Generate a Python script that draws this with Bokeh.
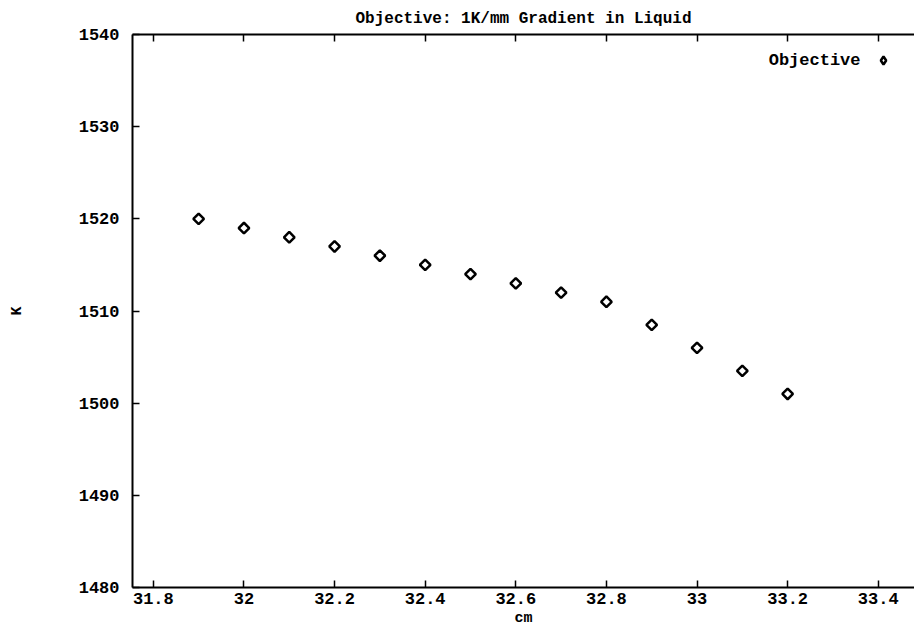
import math
from bokeh.plotting import figure
from bokeh.models import (Range1d, LinearAxis, FixedTicker, Label, Legend, LegendItem)
from bokeh.embed import file_html
from bokeh.resources import INLINE

# Data
x_cm = [31.9, 32.0, 32.1, 32.2, 32.3, 32.4, 32.5, 32.6, 32.7, 32.8, 32.9, 33.0, 33.1, 33.2]
y_K = [1520, 1519, 1518, 1517, 1516, 1515, 1514, 1513, 1512, 1511, 1508.5, 1506, 1503.5, 1501]
x_ticks = [31.8, 32.0, 32.2, 32.4, 32.6, 32.8, 33.0, 33.2, 33.4]
x_tick_labels = ["31.8", "32", "32.2", "32.4", "32.6", "32.8", "33", "33.2", "33.4"]
y_ticks = [1480, 1490, 1500, 1510, 1520, 1530, 1540]

FONT = "Liberation Mono"
FS = "17px"

p = figure(width=914, height=633, output_backend="svg", toolbar_location=None,
           x_range=Range1d(31.754, 33.48), y_range=Range1d(1480, 1540),
           min_border_left=132, min_border_right=0, min_border_top=33, min_border_bottom=46)
p.outline_line_color = None
p.xgrid.visible = False
p.ygrid.visible = False

p.title.text = "Objective: 1K/mm Gradient in Liquid"
p.title.align = "center"
p.title.text_font = FONT
p.title.text_font_style = "bold"
p.title.text_font_size = "16px"
p.title.text_color = "black"
p.title.standoff = 14

for ax in (p.xaxis[0], p.yaxis[0]):
    ax.axis_line_width = 2
    ax.axis_line_color = "black"
    ax.major_tick_in = 7
    ax.major_tick_out = 0
    ax.major_tick_line_width = 1.5
    ax.major_tick_line_color = "black"
    ax.minor_tick_in = 0
    ax.minor_tick_out = 0
    ax.major_label_text_font = FONT
    ax.major_label_text_font_style = "bold"
    ax.major_label_text_font_size = FS
    ax.major_label_text_color = "black"
    ax.axis_label_text_font = FONT
    ax.axis_label_text_font_style = "bold"
    ax.axis_label_text_font_size = "15px"
    ax.axis_label_text_color = "black"

p.xaxis.ticker = FixedTicker(ticks=x_ticks)
p.xaxis.major_label_overrides = {t: l for t, l in zip(x_ticks, x_tick_labels)}
p.xaxis.axis_label = "cm"
p.xaxis.major_label_standoff = 5
p.xaxis.axis_label_standoff = 3
p.yaxis.ticker = FixedTicker(ticks=y_ticks)
p.yaxis.axis_label = "K"
p.yaxis.major_label_standoff = 13
p.yaxis.axis_label_standoff = 50

top = LinearAxis(ticker=FixedTicker(ticks=x_ticks), axis_line_width=2,
                 major_tick_in=7, major_tick_out=0, major_tick_line_width=1.5,
                 minor_tick_in=0, minor_tick_out=0,
                 major_label_overrides={t: "" for t in x_ticks},
                 major_label_standoff=0)
p.add_layout(top, "above")

r = p.scatter(x_cm, y_K, marker="square", angle=math.pi / 4, size=7.5,
              fill_color="white", line_color="black", line_width=2.5)
# hidden twin renderer used only for the legend swatch (legend ignores marker angle)
r_leg = p.scatter(x_cm, y_K, marker="diamond", size=9,
                  fill_color="white", line_color="black", line_width=2.5, visible=False)

p.add_layout(Label(x=728, y=527, x_units="screen", y_units="screen", text="Objective",
                   text_font=FONT, text_font_style="bold", text_font_size=FS,
                   text_align="right", text_baseline="middle", text_color="black"))

leg = Legend(items=[LegendItem(label="", renderers=[r_leg])], location=(741, 517),
             border_line_color=None, background_fill_alpha=0, padding=0, margin=0,
             label_width=0, label_standoff=0, glyph_width=20, glyph_height=20)
p.add_layout(leg, "center")

open("out.html", "w").write(file_html(p, INLINE))
